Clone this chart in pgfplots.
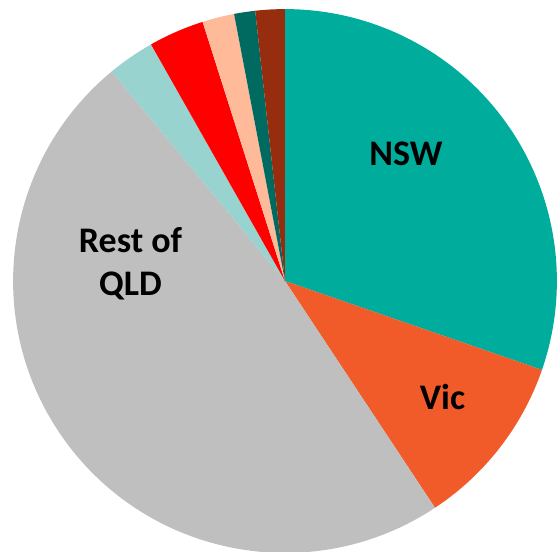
\documentclass[border=0pt]{standalone}
\usepackage{pgfplots}
\pgfplotsset{compat=1.18}
\usepackage{pgfplotstable}
\usepackage{fontspec}
\setmainfont{Carlito}
\definecolor{cNSW}{HTML}{00AC9C}
\definecolor{cVic}{HTML}{F15A29}
\definecolor{cRest}{HTML}{BFBFBF}
\definecolor{cLT}{HTML}{99D3CF}
\definecolor{cRed}{HTML}{FF0000}
\definecolor{cPeach}{HTML}{FFBB99}
\definecolor{cDT}{HTML}{006A60}
\definecolor{cBrown}{HTML}{962D0E}

\pgfplotstableread{
label value
NSW 30.3
Vic 10.4
RestQLD 48.3
S4 2.8
S5 3.3
S6 1.9
S7 1.25
S8 1.75
}\piedata

\def\cum{90}
\pgfplotstableforeachcolumnelement{value}\of\piedata\as\v{%
  \pgfmathsetmacro\endang{\cum-3.6*\v}%
  \expandafter\xdef\csname sA\pgfplotstablerow\endcsname{\cum}%
  \expandafter\xdef\csname sB\pgfplotstablerow\endcsname{\endang}%
  \xdef\cum{\endang}%
}
\def\R{271.9pt}
\newcommand{\slice}[2]{%
  \fill[#2] (axis cs:0,0) -- ++(\csname sA#1\endcsname:\R)
    arc[start angle=\csname sA#1\endcsname, end angle=\csname sB#1\endcsname, radius=\R] -- cycle;}

\begin{document}
\begin{tikzpicture}
\begin{axis}[
  hide axis, scale only axis, clip=false,
  width=558pt, height=552pt,
  xmin=-1.0478, xmax=1.0037, ymin=-0.9963, ymax=1.0331,
]
\coordinate (bl) at (rel axis cs:0,0);
\coordinate (tr) at (rel axis cs:1,1);
\slice{0}{cNSW}
\slice{1}{cVic}
\slice{2}{cRest}
\slice{3}{cLT}
\slice{4}{cRed}
\slice{5}{cPeach}
\slice{6}{cDT}
\slice{7}{cBrown}
\node[anchor=base, font=\fontsize{36}{43}\selectfont\bfseries] at (axis cs:0.445,0.423) {NSW};
\node[anchor=base, font=\fontsize{36}{43}\selectfont\bfseries] at (axis cs:0.579,-0.474) {Vic};
\node[anchor=base, font=\fontsize{36}{43}\selectfont\bfseries] at (axis cs:-0.568,0.103) {Rest of};
\node[anchor=base, font=\fontsize{36}{43}\selectfont\bfseries] at (axis cs:-0.568,-0.055) {QLD};
\end{axis}
\pgfresetboundingbox
\path (bl) rectangle (tr);
\end{tikzpicture}
\end{document}
